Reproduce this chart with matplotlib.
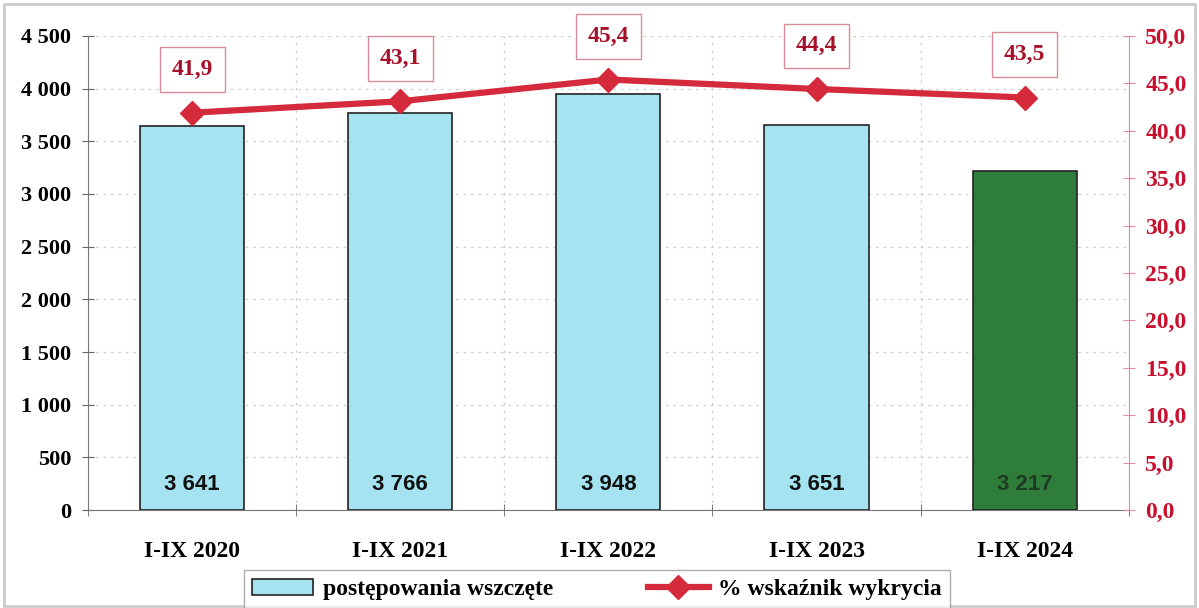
import matplotlib.pyplot as plt
import numpy as np

categories = ["I-IX 2020", "I-IX 2021", "I-IX 2022", "I-IX 2023", "I-IX 2024"]
cases = [3641, 3766, 3948, 3651, 3217]
detection = [41.9, 43.1, 45.4, 44.4, 43.5]
case_labels = ["3 641", "3 766", "3 948", "3 651", "3 217"]

serif = "Liberation Serif"
red = "#c8102e"
line_red = "#d42a3c"

fig = plt.figure(figsize=(11.99, 6.08), dpi=100)
ax = fig.add_axes([0.0734, 0.161, 0.868, 0.780])
ax2 = ax.twinx()

x = np.arange(len(categories))
colors = ["#a6e3f0"] * 4 + ["#2e7d3a"]
ax.bar(x, cases, width=0.5, color=colors, edgecolor="#222222", linewidth=1.2, zorder=3,
       label="postępowania wszczęte")
for i, lab in enumerate(case_labels):
    ax.text(x[i], 240, lab, ha="center", va="center", fontsize=16, fontweight="bold",
            family="Liberation Sans", color="#111111" if i < 4 else "#1f3a22", zorder=4)

ax.set_xlim(-0.5, 4.5)
ax.set_ylim(0, 4500)
ax.set_yticks(np.arange(0, 4501, 500))
ax.set_yticklabels(["0", "500", "1 000", "1 500", "2 000", "2 500", "3 000", "3 500", "4 000", "4 500"],
                   family=serif, fontweight="bold", fontsize=16)
ax.set_xticks(x)
ax.set_xticklabels(categories, family=serif, fontweight="bold", fontsize=17)
ax.set_xticks(np.arange(-0.5, 4.6, 1), minor=True)
ax.tick_params(axis="x", which="major", length=0, pad=22)
ax.tick_params(axis="x", which="minor", length=8, direction="inout", color="#666666")
ax.tick_params(axis="y", length=8, direction="inout", color="#666666", pad=8)
ax.grid(axis="y", linestyle=(0, (2, 4)), color="#cccccc", linewidth=0.9, zorder=0)
ax.grid(axis="x", which="minor", linestyle=(0, (2, 4)), color="#cccccc", linewidth=0.9, zorder=0)
for s in ["top", "right"]:
    ax.spines[s].set_visible(False)
ax.spines["left"].set_color("#777777")
ax.spines["bottom"].set_color("#777777")

ax2.plot(x, detection, color=line_red, linewidth=4.5, marker="D", markersize=12, zorder=5,
         label="% wskaźnik wykrycia")
for i, v in enumerate(detection):
    ax2.annotate(f"{v:.1f}".replace(".", ","), (x[i], v), xytext=(0, 31), textcoords="offset points",
                 ha="center", va="center", fontsize=17, fontweight="bold", family=serif, color="#a8102a",
                 bbox=dict(boxstyle="square,pad=0.5", fc="white", ec="#d98a98", lw=1))
ax2.set_ylim(0, 50)
ax2.set_yticks(np.arange(0, 50.1, 5))
ax2.set_yticklabels([f"{v:.1f}".replace(".", ",") for v in np.arange(0, 50.1, 5)],
                    family=serif, fontweight="bold", fontsize=17, color=red)
ax2.tick_params(axis="y", length=8, direction="inout", color="#e08aa0", pad=8)
for s in ["top", "left", "bottom"]:
    ax2.spines[s].set_visible(False)
ax2.spines["right"].set_color("#e08aa0")

h1, l1 = ax.get_legend_handles_labels()
h2, l2 = ax2.get_legend_handles_labels()
fig.legend(h1 + h2, l1 + l2, loc="lower center", bbox_to_anchor=(0.498, -0.02), ncol=2,
           prop={"family": serif, "weight": "bold", "size": 17}, frameon=True, fancybox=False,
           edgecolor="#999999", columnspacing=4, handlelength=2.6, handletextpad=0.4, borderpad=0.35)

fig.patches.append(plt.Rectangle((0.003, 0.003), 0.994, 0.99, transform=fig.transFigure,
                                 fill=False, edgecolor="#cccccc", linewidth=2))

fig.savefig("out.png", dpi=100)
